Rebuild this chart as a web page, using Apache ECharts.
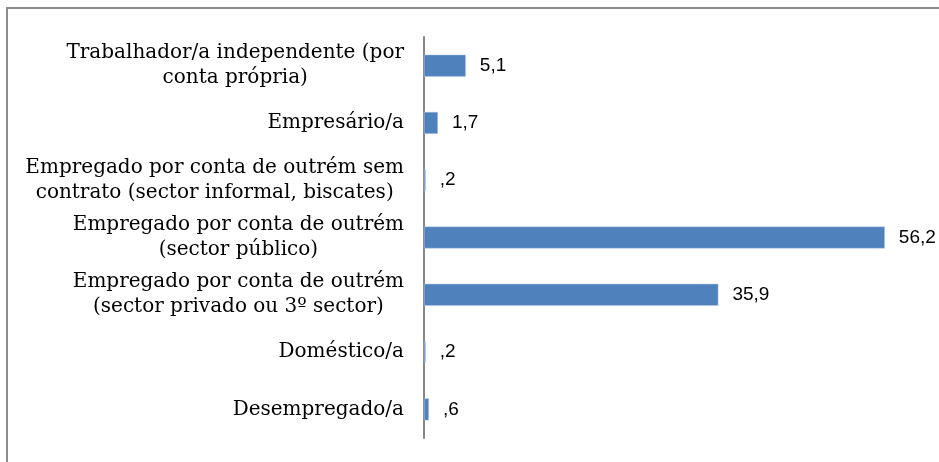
<!DOCTYPE html>
<html>
<head>
<meta charset="utf-8">
<script src="https://cdn.jsdelivr.net/npm/echarts@6/dist/echarts.min.js"></script>
<style>
  html, body { margin: 0; padding: 0; background: #fff; }
  #chart { width: 939px; height: 462px; }
</style>
</head>
<body>
<div id="chart"></div>
<script>
// categories top to bottom, as in the picture
const categories = [
  'Trabalhador/a independente (por\nconta própria)',
  'Empresário/a',
  'Empregado por conta de outrém sem\ncontrato (sector informal, biscates)',
  'Empregado por conta de outrém\n(sector público)',
  'Empregado por conta de outrém\n(sector privado ou 3º sector)',
  'Doméstico/a',
  'Desempregado/a',
];
const values = [5.1, 1.7, 0.2, 56.2, 35.9, 0.2, 0.6];

// yAxis category goes bottom-up, so reverse
const cats = categories.slice().reverse();
const vals = values.slice().reverse();

const chart = echarts.init(document.getElementById('chart'));

function fmt(v) {
  return String(v).replace('.', ',').replace(/^0/, '');
}

chart.setOption({
  animation: false,
  grid: { left: 424, right: 23, top: 37, bottom: 24 },
  graphic: [{
    type: 'rect',
    shape: { x: 7, y: 8, width: 960, height: 500 },
    style: { fill: 'none', stroke: '#8c8c8c', lineWidth: 2 },
    silent: true,
  }],
  xAxis: {
    type: 'value',
    min: 0,
    max: 60,
    show: false,
  },
  yAxis: {
    type: 'category',
    data: cats,
    axisLine: { show: true, lineStyle: { color: '#868686', width: 2 } },
    axisTick: { show: false },
    axisLabel: {
      margin: 20,
      formatter(value) {
        return value.split('\n').map((l) => `{c|${l}}`).join('\n');
      },
      rich: {
        c: {
          align: 'center',
          fontFamily: 'DejaVu Serif',
          fontSize: 20,
          lineHeight: 25,
          color: '#000',
        },
      },
    },
  },
  series: [{
    type: 'bar',
    data: vals,
    barWidth: 22,
    itemStyle: { color: '#4f81bd', borderColor: '#b9cde5', borderWidth: 0.5 },
    label: {
      show: true,
      position: 'right',
      distance: 14,
      formatter: (p) => fmt(p.value),
      fontFamily: 'Liberation Sans',
      fontSize: 19,
      color: '#000',
    },
  }],
});
</script>
</body>
</html>
